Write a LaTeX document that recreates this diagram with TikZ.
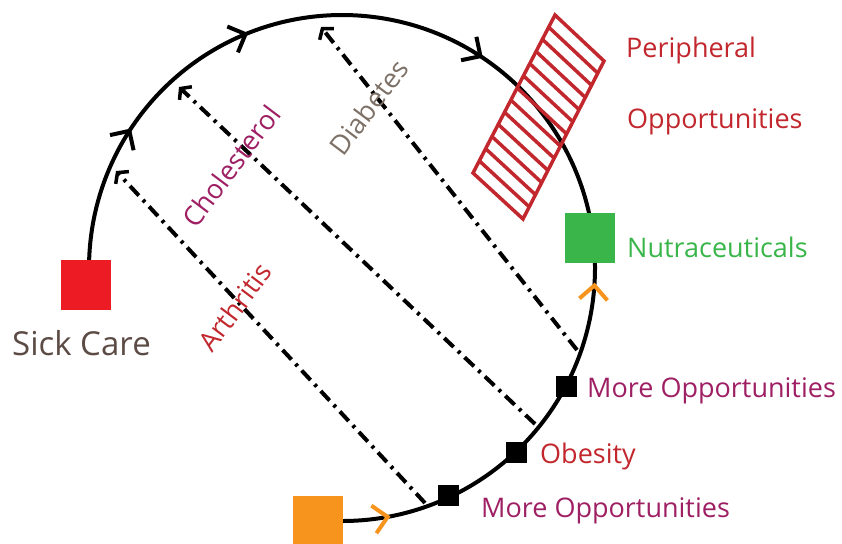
\documentclass[tikz,border=0pt]{standalone}
\usepackage{fontspec}
\setmainfont{Open Sans}
\usetikzlibrary{arrows.meta,decorations.markings,calc}
\definecolor{cRed}{HTML}{ED1C24}
\definecolor{cGreen}{HTML}{39B54A}
\definecolor{cOrange}{HTML}{F7941D}
\definecolor{cPurple}{HTML}{9E1F63}
\definecolor{cCrim}{HTML}{C1272D}
\definecolor{cBrown}{HTML}{5B4B44}
\definecolor{cGray}{HTML}{7D7066}
\begin{document}
\begin{tikzpicture}[x=1pt,y=-1pt,
  lbl/.style={font=\fontsize{27}{32}\selectfont, inner sep=0pt, anchor=base west},
  rlbl/.style={font=\fontsize{27}{32}\selectfont, inner sep=0pt, rotate=53},
  sq/.style={minimum size=50pt, inner sep=0pt, draw=none},
  blk/.style={fill=black, minimum size=21pt, inner sep=0pt},
  ring/.style={line width=4pt},
  chevB/.style={draw=black, line width=4pt},
  chevO/.style={draw=cOrange, line width=4pt},
  dd/.style={line width=4pt, dash pattern=on 13pt off 6pt on 3pt off 6pt,
    -{Straight Barb[length=7pt,width=18pt,line width=3.5pt]}},
  hatch/.style={draw=cCrim, line width=3.5pt},
]
\useasboundingbox (0,0) rectangle (842,543);
\coordinate (c) at (342,268);

% main ring with direction marks
\draw[ring, postaction={decorate}, decoration={markings,
  mark=at position 0.0577 with {\draw[chevO] (-14,-14) -- (0,0) -- (-14,14);},
  mark=at position 0.334 with {\draw[chevO] (-14,-14) -- (0,0) -- (-14,14);},
  mark=at position 0.556 with {\draw[chevB] (14,-14) -- (0,0) -- (14,14);},
  mark=at position 0.759 with {\draw[chevB] (14,-14) -- (0,0) -- (14,14);},
  mark=at position 0.886 with {\draw[chevB] (14,-14) -- (0,0) -- (14,14);}}]
  ([shift={(95.4:253)}]c) arc[start angle=95.4, end angle=-178.4, radius=253];

% dash-dot arrows
\coordinate (a1s) at (425,503); \coordinate (a1e) at (116,171);
\coordinate (a2s) at (535,424); \coordinate (a2e) at (179,87);
\coordinate (a3s) at (577,350); \coordinate (a3e) at (321,27);
\draw[dd] (a1s) -- (a1e);
\draw[dd] (a2s) -- (a2e);
\draw[dd] (a3s) -- (a3e);

% hatched peripheral box
\coordinate (hA) at (555,15);
\coordinate (hB) at (604,61);
\coordinate (hC) at (523,219);
\coordinate (hD) at (473,173);
\draw[hatch] (hA) -- (hB) -- (hC) -- (hD) -- cycle;
\foreach \i in {1,...,12}{
  \draw[hatch] ($(hA)!\i/13!(hD)$) -- ($(hB)!\i/13!(hC)$);
}

% squares
\node[sq, fill=cRed] (sick) at (86,285) {};
\node[sq, fill=cGreen] (nutra) at (590,238) {};
\node[sq, fill=cOrange] (start) at (318,521) {};
\node[blk] (m1) at (566.5,386.5) {};
\node[blk] (m2) at (516.5,452.5) {};
\node[blk] (m3) at (448.5,495.5) {};

% labels
\node[lbl, text=cCrim] (per) at (626,58) {Peripheral};
\node[lbl, text=cCrim] (opp) at (627,128) {Opportunities};
\node[lbl, text=cGreen] (nut) at (627,257) {Nutraceuticals};
\node[lbl, text=cPurple] (mo1) at (587,397) {More Opportunities};
\node[lbl, text=cCrim] (obe) at (540,463) {Obesity};
\node[lbl, text=cPurple] (mo2) at (481,517) {More Opportunities};
\node[lbl, text=cBrown, font=\fontsize{33}{38}\selectfont] (sc) at (12,355) {Sick Care};

\node[rlbl, text=cCrim] (arth) at (235,307) {Arthritis};
\node[rlbl, text=cPurple] (chol) at (231,166) {Cholesterol};
\node[rlbl, text=cGray] (diab) at (369,107) {Diabetes};
\end{tikzpicture}
\end{document}
